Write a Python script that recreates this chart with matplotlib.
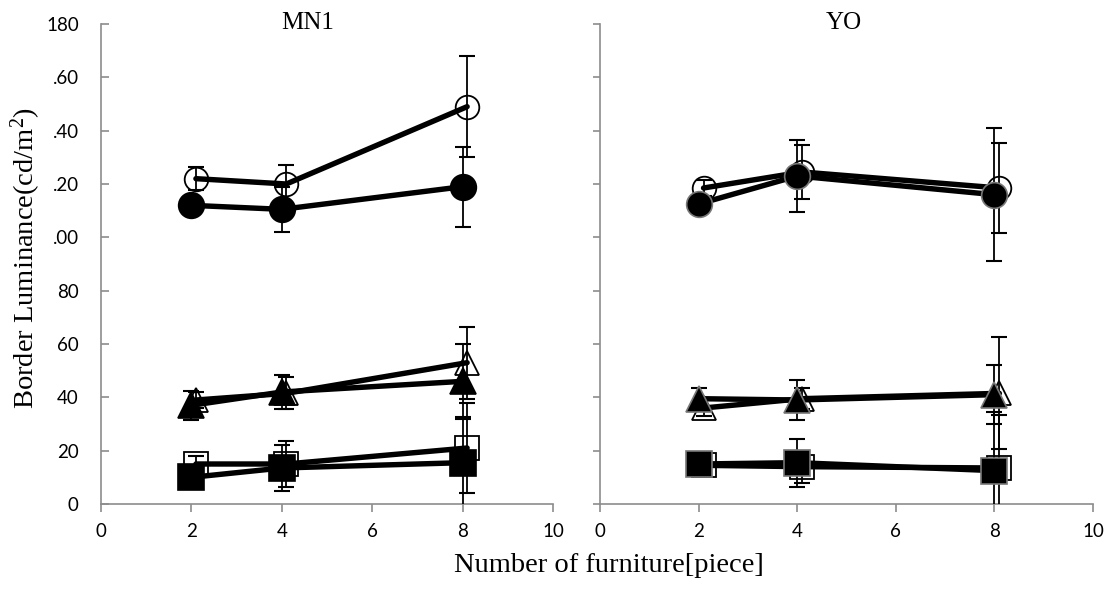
import matplotlib
matplotlib.use('Agg')
import matplotlib.pyplot as plt

plt.rcParams['font.family'] = ['Lato', 'DejaVu Sans']
plt.rcParams['mathtext.fontset'] = 'custom'
plt.rcParams['mathtext.rm'] = 'Liberation Serif'
plt.rcParams['mathtext.it'] = 'Liberation Serif:italic'

# x positions (open series are shifted a little to the right)
x_filled = [2, 4, 8]
x_open = [2.1, 4.1, 8.1]

# MN1
mn1_circle_filled = [112, 110.5, 119]
mn1_circle_filled_err = [2, 8.5, 15]
mn1_circle_open = [122, 120, 149]
mn1_circle_open_err = [4.4, 7, 19]
mn1_tri_filled = [37, 42, 46]
mn1_tri_filled_err = [5.5, 6.5, 14]
mn1_tri_open = [39, 41.5, 53]
mn1_tri_open_err = [3, 6, 13.5]
mn1_sq_filled = [10, 13.5, 15.5]
mn1_sq_filled_err = [2, 8.5, 17]
mn1_sq_open = [15, 15, 21]
mn1_sq_open_err = [3, 8.5, 17]

# YO
yo_circle_filled = [112.5, 123, 116]
yo_circle_filled_err = [2, 13.5, 25]
yo_circle_open = [118.5, 124.5, 118.5]
yo_circle_open_err = [3, 10, 17]
yo_tri_filled = [39.5, 39, 41]
yo_tri_filled_err = [4, 7.5, 11]
yo_tri_open = [36, 39.5, 41.5]
yo_tri_open_err = [3, 4, 21]
yo_sq_filled = [15, 15.5, 12.5]
yo_sq_filled_err = [2, 9, 22]
yo_sq_open = [14.5, 14, 13.5]
yo_sq_open_err = [2, 6, 20]

y_ticks = [0, 20, 40, 60, 80, 100, 120, 140, 160, 180]
y_ticklabels = ['0', '20', '40', '60', '80', '.00', '.20', '.40', '.60', '180']
x_ticks = [0, 2, 4, 6, 8, 10]

spine_gray = '#8c8c8c'

fig = plt.figure(figsize=(11.09, 5.94), dpi=100)
ax1 = fig.add_axes([101 / 1109, 1 - 504 / 594, 452 / 1109, 480 / 594])
ax2 = fig.add_axes([600 / 1109, 1 - 504 / 594, 493 / 1109, 480 / 594])


def draw_panel(ax, series, filled_edge):
    z = 2
    for x, y, err, marker, filled, ms in series:
        ax.errorbar(x, y, yerr=err, fmt='none', ecolor='black', elinewidth=1.3,
                    capsize=6, capthick=1.5, zorder=z)
        if filled:
            ax.plot(x, y, color='black', lw=3.9, marker=marker, ms=ms,
                    markerfacecolor='black', markeredgecolor=filled_edge,
                    markeredgewidth=1.2, zorder=z + 1, solid_capstyle='round')
        else:
            ax.plot(x, y, color='black', lw=3.9, marker=marker, ms=ms,
                    markerfacecolor='none', markeredgecolor='black',
                    markeredgewidth=1.3, zorder=z + 1, solid_capstyle='round')
        z += 2
    ax.set_xlim(0, 10)
    ax.set_ylim(0, 180)
    ax.set_xticks(x_ticks)
    ax.set_yticks(y_ticks)
    for side in ['top', 'right']:
        ax.spines[side].set_visible(False)
    for side in ['left', 'bottom']:
        ax.spines[side].set_color(spine_gray)
        ax.spines[side].set_linewidth(1.2)
    ax.tick_params(axis='x', direction='out', length=6, width=1.2,
                   color=spine_gray, labelsize=13.5, pad=8)
    ax.set_facecolor('none')


draw_panel(ax1, [
    (x_open, mn1_circle_open, mn1_circle_open_err, 'o', False, 17),
    (x_filled, mn1_circle_filled, mn1_circle_filled_err, 'o', True, 18.5),
    (x_open, mn1_tri_open, mn1_tri_open_err, '^', False, 17.5),
    (x_filled, mn1_tri_filled, mn1_tri_filled_err, '^', True, 18.5),
    (x_open, mn1_sq_open, mn1_sq_open_err, 's', False, 17.5),
    (x_filled, mn1_sq_filled, mn1_sq_filled_err, 's', True, 18.5),
], 'black')

draw_panel(ax2, [
    (x_open, yo_circle_open, yo_circle_open_err, 'o', False, 17),
    (x_filled, yo_circle_filled, yo_circle_filled_err, 'o', True, 18.5),
    (x_open, yo_tri_open, yo_tri_open_err, '^', False, 17.5),
    (x_filled, yo_tri_filled, yo_tri_filled_err, '^', True, 18.5),
    (x_open, yo_sq_open, yo_sq_open_err, 's', False, 17.5),
    (x_filled, yo_sq_filled, yo_sq_filled_err, 's', True, 18.5),
], '#777777')

ax1.set_yticklabels(y_ticklabels)
ax1.tick_params(axis='y', direction='in', length=6, width=1.2,
                color=spine_gray, labelsize=13.5, pad=16)
ax2.tick_params(axis='y', direction='out', length=5, width=1.2,
                color=spine_gray, labelleft=False)

ax1.text(0.458, 0.9896, 'MN1', transform=ax1.transAxes, ha='center',
         va='baseline', fontsize=18, family='Liberation Serif')
ax2.text(0.495, 0.9896, 'YO', transform=ax2.transAxes, ha='center',
         va='baseline', fontsize=18, family='Liberation Serif')

fig.text(0.0234, 0.565, 'Border Luminance(cd/m$^2$)', rotation=90,
         ha='center', va='center', fontsize=20.5, family='Liberation Serif')
fig.text(609 / 1109, 1 - 566 / 594, 'Number of furniture[piece]',
         ha='center', va='center', fontsize=20.5, family='Liberation Serif')

fig.savefig('out.png', dpi=100)
